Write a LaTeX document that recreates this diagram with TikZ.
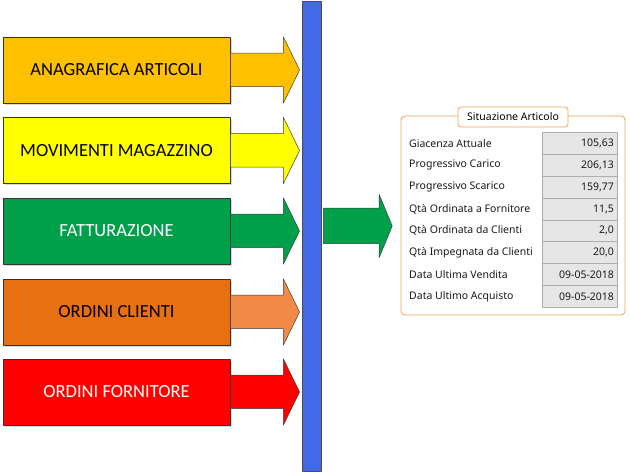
\documentclass[tikz,border=0pt]{standalone}
\usepackage{fontspec}
\setmainfont{Carlito}
\newfontfamily\panelfont{Noto Sans}
\usepackage{tikz}
\usetikzlibrary{shapes.arrows,shadows,positioning}
\usepackage{xcolor}
\definecolor{oro}{HTML}{FFC000}
\definecolor{giallo}{HTML}{FFFF00}
\definecolor{verde}{HTML}{00A04A}
\definecolor{arancio}{HTML}{E87010}
\definecolor{aranciochiaro}{HTML}{F08A46}
\definecolor{rosso}{HTML}{FF0000}
\definecolor{blubarra}{HTML}{4169E8}
\definecolor{bordopannello}{HTML}{F2A24E}
\definecolor{grigiocella}{HTML}{E6E6E6}
\definecolor{bordocella}{HTML}{ADADAD}

\begin{document}
\begin{tikzpicture}[x=1pt,y=-1pt,line join=round,
  modulo/.style={draw=black!80,line width=0.6pt,minimum width=227pt,minimum height=66pt,inner sep=0pt,
    font=\fontsize{18.5}{22}\selectfont,drop shadow={shadow xshift=2pt,shadow yshift=-2pt,opacity=.3}},
  flusso/.style={single arrow,draw=black!75,line width=0.5pt,anchor=tail,inner xsep=0pt,inner ysep=16.5pt,
    minimum height=69pt,single arrow head extend=16.5pt,single arrow tip angle=128},
  voce/.style={anchor=west,inner sep=0pt,font=\panelfont\fontsize{10.5}{12}\selectfont,text=black!90},
  cella/.style={draw=bordocella,fill=grigiocella,line width=0.5pt,minimum height=21.85pt,text width=69pt,
    align=right,inner xsep=3pt,inner ysep=0pt,font=\panelfont\fontsize{10.5}{12}\selectfont,text=black!90}]
\useasboundingbox (0,0) rectangle (630,473);

% moduli a sinistra
\node[modulo,fill=oro] (anagrafica) at (116.5,70) {ANAGRAFICA ARTICOLI};
\node[modulo,fill=giallo] (movimenti) at (116.5,150.5) {MOVIMENTI MAGAZZINO};
\node[modulo,fill=verde,text=white] (fatturazione) at (116.5,231) {FATTURAZIONE};
\node[modulo,fill=arancio] (clienti) at (116.5,312) {ORDINI CLIENTI};
\node[modulo,fill=rosso,text=white] (fornitore) at (116.5,392) {ORDINI FORNITORE};

\node[flusso,fill=oro] (fanagrafica) at (anagrafica.east) {};
\node[flusso,fill=giallo] (fmovimenti) at (movimenti.east) {};
\node[flusso,fill=verde] (ffatturazione) at (fatturazione.east) {};
\node[flusso,fill=aranciochiaro] (fclienti) at (clienti.east) {};
\node[flusso,fill=rosso] (ffornitore) at (fornitore.east) {};

% barra blu
\node[draw=black!70,fill=blubarra,line width=0.6pt,minimum width=19pt,minimum height=470pt,inner sep=0pt] (barra) at (311.5,236) {};

\coordinate (uscita) at (323,226);
\node[flusso,fill=verde,inner ysep=17.5pt,single arrow head extend=14pt,single arrow tip angle=135] (fuscita) at (uscita) {};

% pannello situazione articolo
\node[draw=bordopannello,rounded corners=4pt,line width=0.8pt,minimum width=224pt,minimum height=199pt,inner sep=0pt] (pannello) at (513,215.5) {};
\node[draw=bordopannello,fill=white,rounded corners=3pt,line width=0.8pt,minimum width=110pt,minimum height=20pt,inner sep=0pt,
  font=\panelfont\fontsize{10.5}{12}\selectfont] (titolo) at (513,117) {Situazione Articolo};

\node[voce] (v1) at (409,143.4) {Giacenza Attuale};
\node[voce] (v2) at (409,165.25) {Progressivo Carico};
\node[voce] (v3) at (409,187.1) {Progressivo Scarico};
\node[voce] (v4) at (409,208.95) {Qtà Ordinata a Fornitore};
\node[voce] (v5) at (409,230.8) {Qtà Ordinata da Clienti};
\node[voce] (v6) at (409,252.65) {Qtà Impegnata da Clienti};
\node[voce] (v7) at (409,274.5) {Data Ultima Vendita};
\node[voce] (v8) at (409,296.35) {Data Ultimo Acquisto};

\node[cella] (c1) at (579.5,143.4) {105,63};
\node[cella] (c2) at (579.5,165.25) {206,13};
\node[cella] (c3) at (579.5,187.1) {159,77};
\node[cella] (c4) at (579.5,208.95) {11,5};
\node[cella] (c5) at (579.5,230.8) {2,0};
\node[cella] (c6) at (579.5,252.65) {20,0};
\node[cella] (c7) at (579.5,274.5) {09-05-2018};
\node[cella] (c8) at (579.5,296.35) {09-05-2018};
\end{tikzpicture}
\end{document}
